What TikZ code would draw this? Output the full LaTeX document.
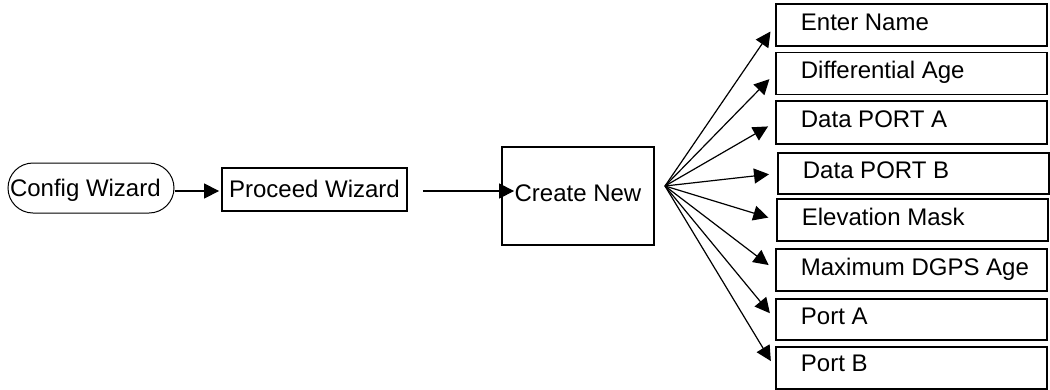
\documentclass[tikz,border=0pt]{standalone}
\usepackage{fontspec}
\setmainfont{Liberation Sans}
\usetikzlibrary{arrows.meta}
\newcommand{\lbx}[1]{\makebox[221pt][l]{#1}}
\begin{document}
\begin{tikzpicture}[x=1pt,y=-1pt,
  txt/.style={font=\fontsize{24}{24}\selectfont, text height=17pt, text depth=6pt},
  sbox/.style={txt, draw, line width=1.8pt, rectangle, inner sep=0pt},
  rbox/.style={sbox, minimum width=271pt, minimum height=42pt, inner xsep=25pt, anchor=north west},
  stad/.style={txt, draw, line width=1pt, rounded corners=25pt, minimum width=166pt, minimum height=50pt, inner xsep=2pt, inner ysep=0pt, align=left},
  arr/.style={line width=1.2pt, -{Triangle[length=15pt,width=15pt]}},
  fanarr/.style={arr, shorten >=8pt}]
\useasboundingbox (0,0) rectangle (1050,389);
\node[stad, text depth=1pt] (cw) at (91,188) {\makebox[162pt][l]{Config Wizard}};
\node[sbox, minimum width=185pt, minimum height=43pt, text depth=1pt] (pw) at (314.5,189.5) {Proceed Wizard};
\node[sbox, minimum width=152pt, minimum height=98pt] (cn) at (578,196) {Create New};
\node[rbox] (en) at (775,3) {\lbx{Enter Name}};
\node[rbox] (da) at (775,51.5) {\lbx{Differential Age}};
\node[rbox, minimum height=43pt] (pa) at (775,100) {\lbx{Data PORT A}};
\node[rbox, minimum width=269pt, minimum height=41pt] (pb) at (777,152) {\lbx{Data PORT B}};
\node[rbox] (em) at (776,198) {\lbx{Elevation Mask}};
\node[rbox] (md) at (775,248) {\lbx{Maximum DGPS Age}};
\node[rbox, minimum height=41pt] (ppa) at (775,298) {\lbx{Port A}};
\node[rbox, text depth=9pt] (ppb) at (775,346) {\lbx{Port B}};
\coordinate (fan) at (665,186);
\draw[arr, shorten >=2pt] ([yshift=-3pt]cw.east) -- ([yshift=-3pt]cw.east -| pw.west);
\draw[arr, shorten >=2pt] ([xshift=15pt,yshift=-1.5pt]pw.east) -- ([xshift=15pt,yshift=-1.5pt]pw.east -| cn.west);
\foreach \b in {en,da,pa,pb,em,md,ppa,ppb}
  \draw[fanarr] (fan) -- (\b.west);
\end{tikzpicture}
\end{document}
